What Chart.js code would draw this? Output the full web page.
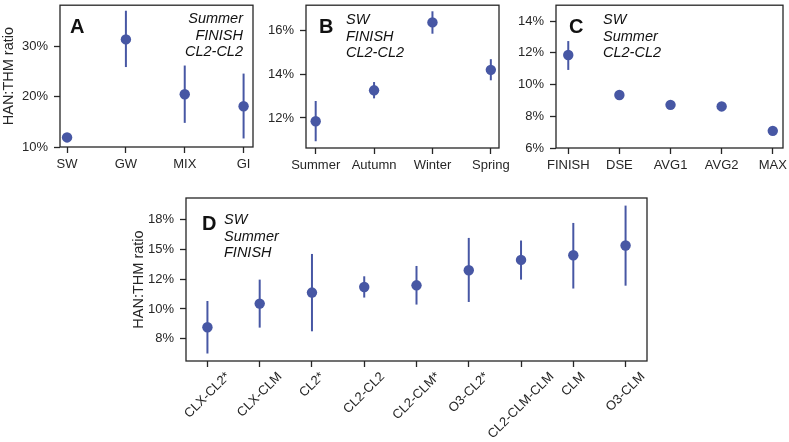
<!DOCTYPE html>
<html>
<head>
<meta charset="utf-8">
<script src="https://cdn.jsdelivr.net/npm/chart.js@4"></script>
<style>
  body { margin: 0; background: #fff; }
  #wrap { position: relative; width: 789px; height: 442px; overflow: hidden; }
  canvas { position: absolute; }
</style>
</head>
<body>
<div id="wrap">
  <canvas id="chartA" width="266" height="180" style="left:0;top:0"></canvas>
  <canvas id="chartB" width="250" height="180" style="left:262px;top:0"></canvas>
  <canvas id="chartC" width="277" height="180" style="left:512px;top:0"></canvas>
  <canvas id="chartD" width="570" height="262" style="left:130px;top:180px"></canvas>
</div>
<script>
// Panel A - source water type
const catsA = ['SW', 'GW', 'MIX', 'GI'];
const meanA = [11.9, 31.4, 20.5, 18.1];
const lowA = [null, 25.9, 14.8, 11.7];
const highA = [null, 37.1, 26.2, 24.6];
const ticksA = [10, 20, 30];

// Panel B - season
const catsB = ['Summer', 'Autumn', 'Winter', 'Spring'];
const meanB = [11.85, 13.27, 16.39, 14.21];
const lowB = [10.93, 12.9, 15.87, 13.73];
const highB = [12.78, 13.65, 16.9, 14.7];
const ticksB = [12, 14, 16];

// Panel C - model
const catsC = ['FINISH', 'DSE', 'AVG1', 'AVG2', 'MAX'];
const meanC = [11.86, 9.34, 8.72, 8.62, 7.08];
const lowC = [10.92, null, null, null, null];
const highC = [12.74, null, null, null, null];
const ticksC = [6, 8, 10, 12, 14];

// Panel D - treatment
const catsD = ['CLX-CL2*', 'CLX-CLM', 'CL2*', 'CL2-CL2', 'CL2-CLM*', 'O3-CL2*', 'CL2-CLM-CLM', 'CLM', 'O3-CLM'];
const meanD = [8.46, 10.45, 11.38, 11.85, 11.99, 13.26, 14.13, 14.52, 15.34];
const lowD = [6.25, 8.43, 8.12, 10.96, 10.37, 10.59, 12.47, 11.72, 11.96];
const highD = [10.67, 12.47, 14.63, 12.75, 13.62, 15.98, 15.76, 17.24, 18.7];
const ticksD = [7.5, 10, 12.5, 15, 17.5];
const tickLabelsD = ['8%', '10%', '12%', '15%', '18%'];

const BLUE = '#4757a4';
const INK = '#262626';
const FONT = 'Liberation Sans, Arial, sans-serif';
const TICK_SIZE = 13;

// draws error bars, the frame, the panel texts and (for D) the rotated category labels
const panelExtras = {
    id: 'panelExtras',
    beforeDatasetsDraw(chart, args, opts) {
        const { ctx, scales: { x, y } } = chart;
        ctx.save();
        ctx.strokeStyle = BLUE;
        ctx.lineWidth = 2;
        opts.low.forEach((lo, i) => {
            if (lo == null) return;
            const px = x.getPixelForValue(i);
            ctx.beginPath();
            ctx.moveTo(px, y.getPixelForValue(lo));
            ctx.lineTo(px, y.getPixelForValue(opts.high[i]));
            ctx.stroke();
        });
        ctx.restore();
    },
    afterDraw(chart, args, opts) {
        const { ctx, chartArea: a, scales: { x } } = chart;
        ctx.save();
        ctx.strokeStyle = INK;
        ctx.lineWidth = 1.3;
        ctx.strokeRect(a.left, a.top, a.right - a.left, a.bottom - a.top);

        ctx.fillStyle = '#111';
        ctx.textBaseline = 'middle';
        ctx.font = 'bold 20px ' + FONT;
        ctx.textAlign = 'left';
        ctx.fillText(opts.letter, a.left + opts.lx, a.top + opts.ly);

        ctx.font = 'italic 14.5px ' + FONT;
        ctx.textAlign = opts.align;
        const tx = opts.align === 'right' ? a.right - opts.tx : a.left + opts.tx;
        opts.lines.forEach((t, i) => ctx.fillText(t, tx, a.top + opts.ty + i * 16.5));

        // rotated labels, box centred under each tick
        if (opts.rotLabels) {
            ctx.font = TICK_SIZE + 'px ' + FONT;
            ctx.fillStyle = INK;
            ctx.textAlign = 'center';
            ctx.textBaseline = 'middle';
            const h = TICK_SIZE;
            const c = Math.SQRT1_2;
            opts.rotLabels.forEach((t, i) => {
                const w = ctx.measureText(t).width;
                const px = x.getPixelForValue(i);
                const cy = a.bottom + 6 + 3 + (w + h) * c / 2;
                ctx.save();
                ctx.translate(px, cy);
                ctx.rotate(-Math.PI / 4);
                ctx.fillText(t, 0, 0);
                ctx.restore();
            });
        }
        ctx.restore();
    }
};

function makePanel(id, cats, mean, low, high, cfg) {
    const ctx = document.getElementById(id).getContext('2d');
    return new Chart(ctx, {
        type: 'scatter',
        data: {
            datasets: [{
                data: mean.map((v, i) => ({ x: i, y: v })),
                backgroundColor: BLUE,
                borderWidth: 0,
                pointRadius: 5.2,
                pointHoverRadius: 5.2
            }]
        },
        options: {
            responsive: false,
            animation: false,
            devicePixelRatio: 1,
            events: [],
            layout: { padding: { top: cfg.padTop, right: cfg.padRight, left: 0, bottom: 0 } },
            plugins: {
                legend: { display: false },
                tooltip: { enabled: false },
                panelExtras: Object.assign({ low, high, rotLabels: cfg.rotate ? cats : null }, cfg.text)
            },
            scales: {
                x: {
                    type: 'linear',
                    min: cfg.xMin,
                    max: cfg.xMax,
                    afterBuildTicks: s => { s.ticks = cats.map((c, i) => ({ value: i })); },
                    afterFit: s => {
                        s.height = cfg.xHeight;
                        s.paddingLeft = 0;
                        s.paddingRight = 0;
                    },
                    grid: { drawOnChartArea: false, drawTicks: true, tickLength: 6, tickWidth: 1.3, tickColor: INK },
                    border: { display: false },
                    ticks: {
                        display: !cfg.rotate,
                        autoSkip: false,
                        maxRotation: 0,
                        padding: 4,
                        color: INK,
                        font: { family: FONT, size: TICK_SIZE },
                        callback: v => cats[v]
                    }
                },
                y: {
                    min: cfg.yMin,
                    max: cfg.yMax,
                    afterBuildTicks: s => { s.ticks = cfg.yTicks.map(v => ({ value: v })); },
                    afterFit: s => {
                        s.width = cfg.yWidth;
                        s.paddingTop = 0;
                        s.paddingBottom = 0;
                    },
                    grid: { drawOnChartArea: false, drawTicks: true, tickLength: 6, tickWidth: 1.3, tickColor: INK },
                    border: { display: false },
                    title: {
                        display: !!cfg.yTitle,
                        text: cfg.yTitle || '',
                        color: INK,
                        font: { family: FONT, size: 14.5 },
                        padding: 0
                    },
                    ticks: {
                        padding: 6,
                        color: INK,
                        font: { family: FONT, size: TICK_SIZE },
                        callback: cfg.yLabel
                    }
                }
            }
        },
        plugins: [panelExtras]
    });
}

const pct = v => v + '%';

makePanel('chartA', catsA, meanA, lowA, highA, {
    xMin: -0.12, xMax: 3.16, yMin: 10, yMax: 38.2, yTicks: ticksA, yLabel: pct,
    yWidth: 60, xHeight: 33, padTop: 3, padRight: 13, yTitle: 'HAN:THM ratio',
    text: { letter: 'A', lx: 10, ly: 22, align: 'right', tx: 10, ty: 14, lines: ['Summer', 'FINISH', 'CL2-CL2'] }
});

makePanel('chartB', catsB, meanB, lowB, highB, {
    xMin: -0.166, xMax: 3.14, yMin: 10.62, yMax: 17.18, yTicks: ticksB, yLabel: pct,
    yWidth: 44, xHeight: 32, padTop: 3, padRight: 13,
    text: { letter: 'B', lx: 13, ly: 22, align: 'left', tx: 40, ty: 15, lines: ['SW', 'FINISH', 'CL2-CL2'] }
});

makePanel('chartC', catsC, meanC, lowC, highC, {
    xMin: -0.24, xMax: 4.2, yMin: 6, yMax: 15, yTicks: ticksC, yLabel: pct,
    yWidth: 44, xHeight: 32, padTop: 3, padRight: 6,
    text: { letter: 'C', lx: 13, ly: 22, align: 'left', tx: 47, ty: 15, lines: ['SW', 'Summer', 'CL2-CL2'] }
});

makePanel('chartD', catsD, meanD, lowD, highD, {
    xMin: -0.41, xMax: 8.41, yMin: 5.62, yMax: 19.34, yTicks: ticksD,
    yLabel: (v, i) => tickLabelsD[i],
    yWidth: 56, xHeight: 81, padTop: 18, padRight: 53, rotate: true, yTitle: 'HAN:THM ratio',
    text: { letter: 'D', lx: 16, ly: 26, align: 'left', tx: 38, ty: 22, lines: ['SW', 'Summer', 'FINISH'] }
});
</script>
</body>
</html>
